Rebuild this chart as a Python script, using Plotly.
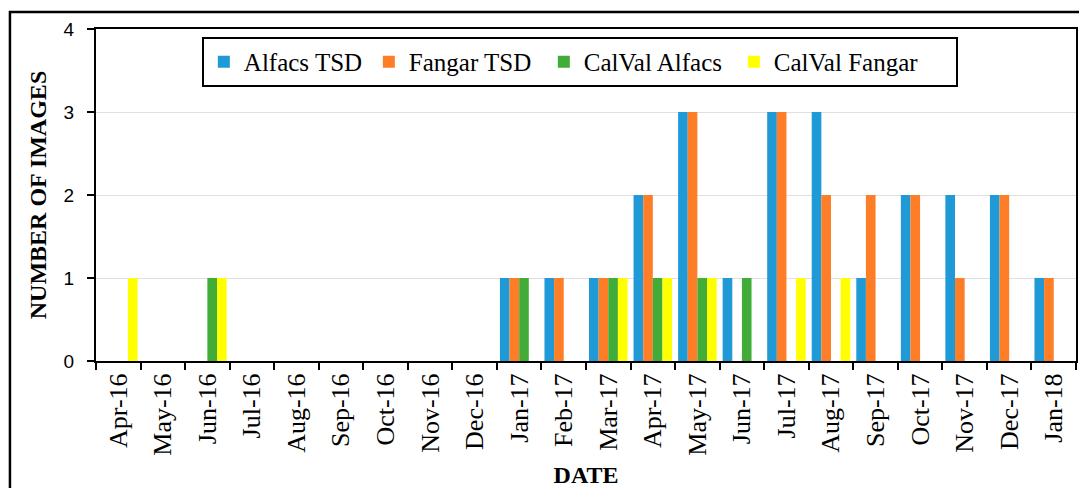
import plotly.graph_objects as go

# monthly categories on the x axis
months = [
    "Apr-16", "May-16", "Jun-16", "Jul-16", "Aug-16", "Sep-16", "Oct-16",
    "Nov-16", "Dec-16", "Jan-17", "Feb-17", "Mar-17", "Apr-17", "May-17",
    "Jun-17", "Jul-17", "Aug-17", "Sep-17", "Oct-17", "Nov-17", "Dec-17",
    "Jan-18",
]

alfacs_tsd = [0, 0, 0, 0, 0, 0, 0, 0, 0, 1, 1, 1, 2, 3, 1, 3, 3, 1, 2, 2, 2, 1]
fangar_tsd = [0, 0, 0, 0, 0, 0, 0, 0, 0, 1, 1, 1, 2, 3, 0, 3, 2, 2, 2, 1, 2, 1]
calval_alfacs = [0, 0, 1, 0, 0, 0, 0, 0, 0, 1, 0, 1, 1, 1, 1, 0, 0, 0, 0, 0, 0, 0]
calval_fangar = [1, 0, 1, 0, 0, 0, 0, 0, 0, 0, 0, 1, 1, 1, 0, 1, 1, 0, 0, 0, 0, 0]

# name, values, colour, legend entry width
SERIES = [
    ("Alfacs TSD", alfacs_tsd, "#1f9ad6", 120),
    ("Fangar TSD", fangar_tsd, "#fd7e27", 130),
    ("CalVal Alfacs", calval_alfacs, "#42ac38", 145),
    ("CalVal Fangar", calval_fangar, "#ffff00", 177),
]

SERIF = "Liberation Serif"

fig = go.Figure()
for name, values, color, lw in SERIES:
    fig.add_trace(
        go.Bar(
            x=months,
            y=values,
            name=name,
            legendwidth=lw,
            marker=dict(color=color, line=dict(width=0)),
        )
    )

# outer frame around the whole chart
fig.add_shape(
    type="rect",
    xref="paper", yref="paper",
    x0=-0.0878, x1=1.2, y0=-0.6, y1=1.0512,
    line=dict(color="black", width=2.5),
    fillcolor="rgba(0,0,0,0)",
    layer="above",
)

# page body has an 8px margin, so the figure is sized to fit inside it
fig.update_layout(
    width=1079,
    height=480,
    margin=dict(l=88, r=11, t=21, b=127),
    font=dict(family=SERIF, color="black"),
    paper_bgcolor="white",
    plot_bgcolor="white",
    barmode="group",
    bargap=0.135,
    bargroupgap=0,
    legend=dict(
        orientation="h",
        x=0.108, xanchor="left",
        y=0.976, yanchor="top",
        bgcolor="white",
        bordercolor="black",
        borderwidth=2,
        font=dict(family=SERIF, size=25, color="black"),
    ),
    xaxis=dict(
        type="category",
        automargin=False,
        tickangle=-90,
        tickson="boundaries",
        ticks="outside",
        ticklen=7,
        tickwidth=2,
        tickcolor="black",
        showline=True,
        linecolor="black",
        linewidth=2,
        mirror=True,
        showgrid=False,
        tickfont=dict(family=SERIF, size=26, color="black"),
        title=dict(
            text="<b>DATE</b>",
            font=dict(family=SERIF, size=24, color="black"),
            standoff=12,
        ),
    ),
    yaxis=dict(
        range=[0, 4],
        dtick=1,
        automargin=False,
        ticks="outside",
        ticklen=7,
        tickwidth=2,
        tickcolor="black",
        ticklabelstandoff=9,
        showline=True,
        linecolor="black",
        linewidth=2,
        mirror=True,
        showgrid=True,
        gridcolor="#e0e0e0",
        gridwidth=1,
        zeroline=False,
        tickfont=dict(family="Liberation Sans", size=19, color="black"),
        title=dict(
            text="<b>NUMBER OF IMAGES</b>",
            font=dict(family=SERIF, size=24, color="black"),
            standoff=10,
        ),
    ),
)

fig.write_html("out.html")
